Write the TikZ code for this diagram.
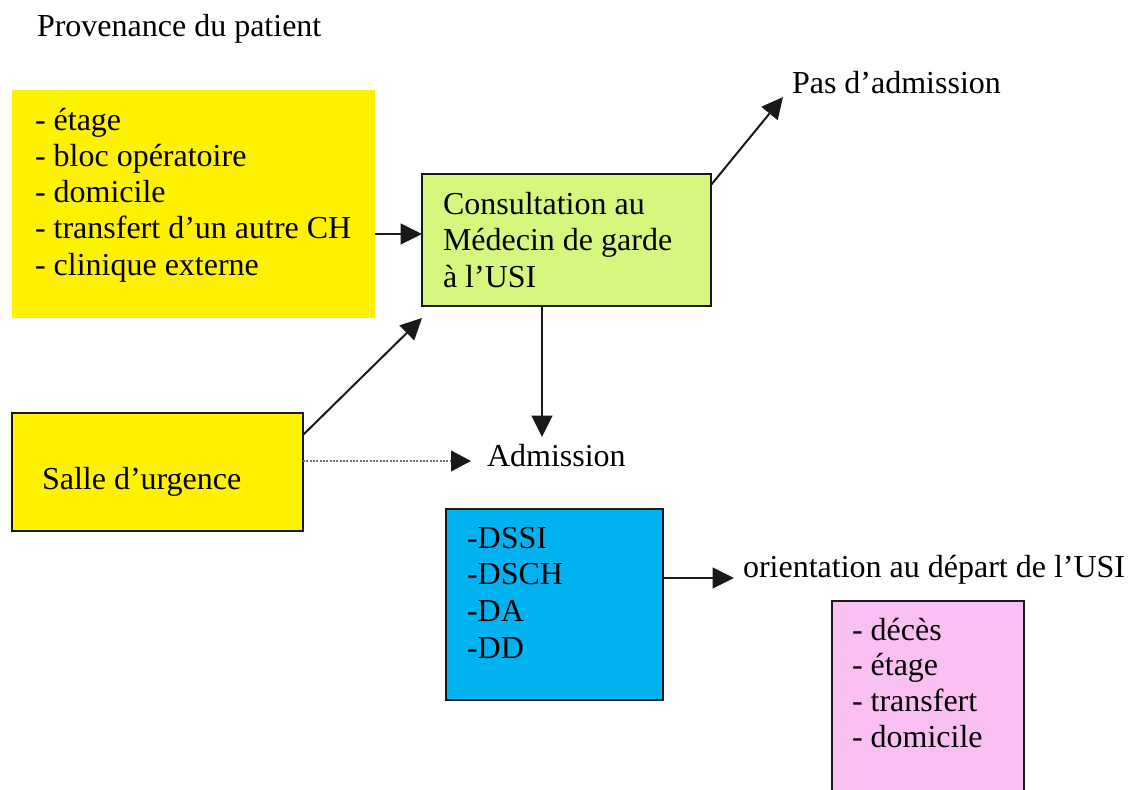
\documentclass[tikz,border=0pt]{standalone}
\usepackage{fontspec}
\setmainfont{Liberation Serif}
\usetikzlibrary{arrows.meta,fit}

\definecolor{boxyellow}{RGB}{255,242,0}
\definecolor{boxgreen}{RGB}{214,247,125}
\definecolor{boxblue}{RGB}{0,178,240}
\definecolor{boxpink}{RGB}{250,192,243}

\begin{document}
\begin{tikzpicture}[x=0.75pt,y=-0.75pt,
  panel/.style={inner sep=0pt, outer sep=0pt},
  framed/.style={panel, draw=black!90, line width=1.5pt},
  txt/.style={anchor=base west, inner sep=0pt, outer sep=0pt,
    font=\fontsize{24pt}{27pt}\selectfont},
  arr/.style={line width=1.5pt, draw=black!90,
    -{Triangle[length=16pt,width=15.5pt]}},
  dotarr/.style={line width=1.5pt, draw=black!55, densely dotted,
    -{Triangle[length=15pt,width=15.5pt,fill=black!90,color=black!90]}}
]
\useasboundingbox (0,0) rectangle (1131,789);
\clip (0,0) rectangle (1131,789);
\fill[white] (0,0) rectangle (1131,789);

% title
\node[txt] (title) at (37,36) {Provenance du patient};

% origin of the patient
\node[panel, fill=boxyellow, fit={(12,90) (375,318)}] (src) {};
\foreach \t [count=\i from 0] in {- étage, - bloc opératoire, - domicile,
    - transfert d’un autre CH, - clinique externe}
  \node[txt] (src\i) at (35,{130+36.3*\i}) {\t};

% consultation with the physician on duty
\node[framed, fill=boxgreen, fit={(422,174) (711,306)}] (cons) {};
\node[txt] (cons0) at (443,214) {Consultation au};
\node[txt] (cons1) at (443,250.5) {Médecin de garde};
\node[txt] (cons2) at (443,287) {à l’USI};

% emergency room
\node[framed, fill=boxyellow, fit={(12,413) (303,531)}] (er) {};
\node[txt] (ertxt) at (42,489) {Salle d’urgence};

% outcomes
\node[txt] (noadm) at (792,93) {Pas d’admission};
\node[txt] (adm) at (487,466) {Admission};

% admission categories
\node[framed, fill=boxblue, fit={(446,509) (663,700)}] (cat) {};
\foreach \t [count=\i from 0] in {-DSSI, -DSCH, -DA, -DD}
  \node[txt] (cat\i) at (467,{548+36.8*\i}) {\t};

% discharge orientation
\node[txt] (orient) at (743,577) {orientation au départ de l’USI};
\node[framed, fill=boxpink, fit={(832,601) (1024,820)}] (dest) {};
\foreach \t [count=\i from 0] in {- décès, - étage, - transfert, - domicile}
  \node[txt] (dest\i) at (852,{640+35.8*\i}) {\t};

% connector end points
\coordinate (consIn) at (422,318);
\coordinate (noadmIn) at (783,97);
\coordinate (admIn) at (542,437);
\coordinate (admLeft) at (471,461);
\coordinate (orientIn) at (734,578);

% connectors
\draw[arr] (src.east |- 0,234) -- (cons.west |- 0,234);
\draw[arr] (er.east |- 0,435) -- (consIn);
\draw[arr] (cons.east |- 0,185) -- (noadmIn);
\draw[arr] (cons.south -| admIn) -- (admIn);
\draw[dotarr] (er.east |- admLeft) -- (admLeft);
\draw[arr] (cat.east |- orientIn) -- (orientIn);
\end{tikzpicture}
\end{document}
